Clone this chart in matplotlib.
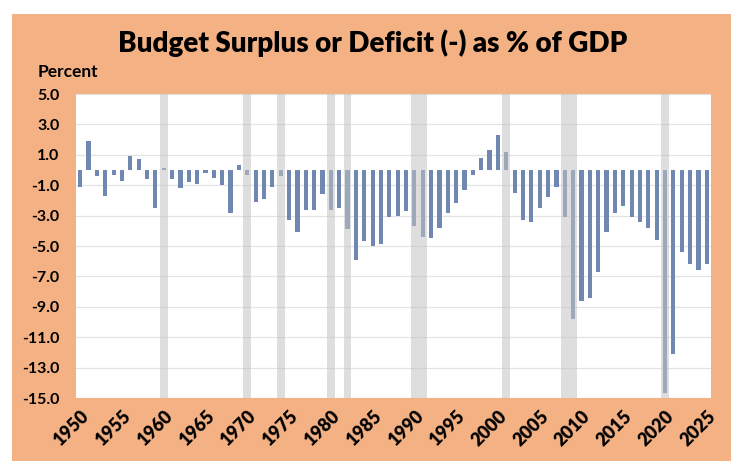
import matplotlib
matplotlib.use("Agg")
import matplotlib.pyplot as plt
from matplotlib.patches import Rectangle
import numpy as np

# US federal budget surplus/deficit, % of GDP
years = np.arange(1950, 2026)
balance = [
    -1.1, 1.9, -0.4, -1.7, -0.3, -0.7, 0.9, 0.7, -0.6, -2.5,   # 1950s
    0.1, -0.6, -1.2, -0.8, -0.9, -0.2, -0.5, -1.0, -2.8, 0.3,   # 1960s
    -0.3, -2.1, -1.9, -1.1, -0.4, -3.3, -4.1, -2.6, -2.6, -1.6,  # 1970s
    -2.6, -2.5, -3.9, -5.9, -4.7, -5.0, -4.9, -3.1, -3.0, -2.7,  # 1980s
    -3.7, -4.4, -4.5, -3.8, -2.8, -2.2, -1.3, -0.3, 0.8, 1.3,   # 1990s
    2.3, 1.2, -1.5, -3.3, -3.4, -2.5, -1.8, -1.1, -3.1, -9.8,   # 2000s
    -8.6, -8.4, -6.7, -4.1, -2.8, -2.4, -3.1, -3.4, -3.8, -4.6,  # 2010s
    -14.7, -12.1, -5.4, -6.2, -6.6, -6.2,                        # 2020s
]
# recession shading, (first year, last year)
recessions = [(1960, 1960), (1970, 1970), (1974, 1974), (1980, 1980),
              (1982, 1982), (1990, 1991), (2001, 2001), (2008, 2009),
              (2020, 2020)]
yticks = np.arange(-15, 6, 2)
xticks = np.arange(1950, 2026, 5)

ORANGE = "#f4b183"
BAR = "#7087b2"
SHADE = "#c4c4c4"
FONT = "Lato"

fig = plt.figure(figsize=(7.4, 4.61), dpi=100)
fig.patch.set_facecolor("white")
W, H = 740, 461
fig.patches.append(Rectangle((12 / W, 0), (731 - 12) / W, (461 - 14) / H,
                             transform=fig.transFigure, facecolor=ORANGE,
                             edgecolor="none", zorder=-5))

ax = fig.add_axes([76 / W, 1 - 398 / H, (711 - 76) / W, (398 - 94) / H])
ax.set_zorder(2)
ax.set_facecolor("white")
ax.bar(years, balance, width=0.5, color=BAR, zorder=2)
for a, b in recessions:
    ax.axvspan(a - 0.46, b + 0.46, color=SHADE, alpha=0.55, lw=0, zorder=3)

ax.set_xlim(1949.5, 2025.5)
ax.set_ylim(-15, 5)
ax.set_yticks(yticks)
ax.set_yticklabels([f"{v:.1f}" for v in yticks], fontsize=11.5,
                   fontweight="bold", family=FONT)
ax.set_xticks(xticks)
ax.set_xticklabels([str(v) for v in xticks], fontsize=13, fontweight="heavy",
                   family=FONT, rotation=45, ha="right", va="top",
                   rotation_mode="anchor")
ax.tick_params(axis="both", length=0)
ax.tick_params(axis="y", pad=12)
ax.tick_params(axis="x", pad=7)
ax.grid(axis="y", color="#e3e3e3", lw=0.9, zorder=1)
ax.set_axisbelow(True)
for s in ax.spines.values():
    s.set_visible(False)

fig.text(373 / W, 1 - 43 / H, "Budget Surplus or Deficit (-) as % of GDP",
         ha="center", va="center", fontsize=20, fontweight="heavy",
         family=FONT)
fig.text(38 / W, 1 - 72 / H, "Percent", ha="left", va="center",
         fontsize=12.5, fontweight="bold", family=FONT)

fig.savefig("out.png", dpi=100, facecolor="white")
